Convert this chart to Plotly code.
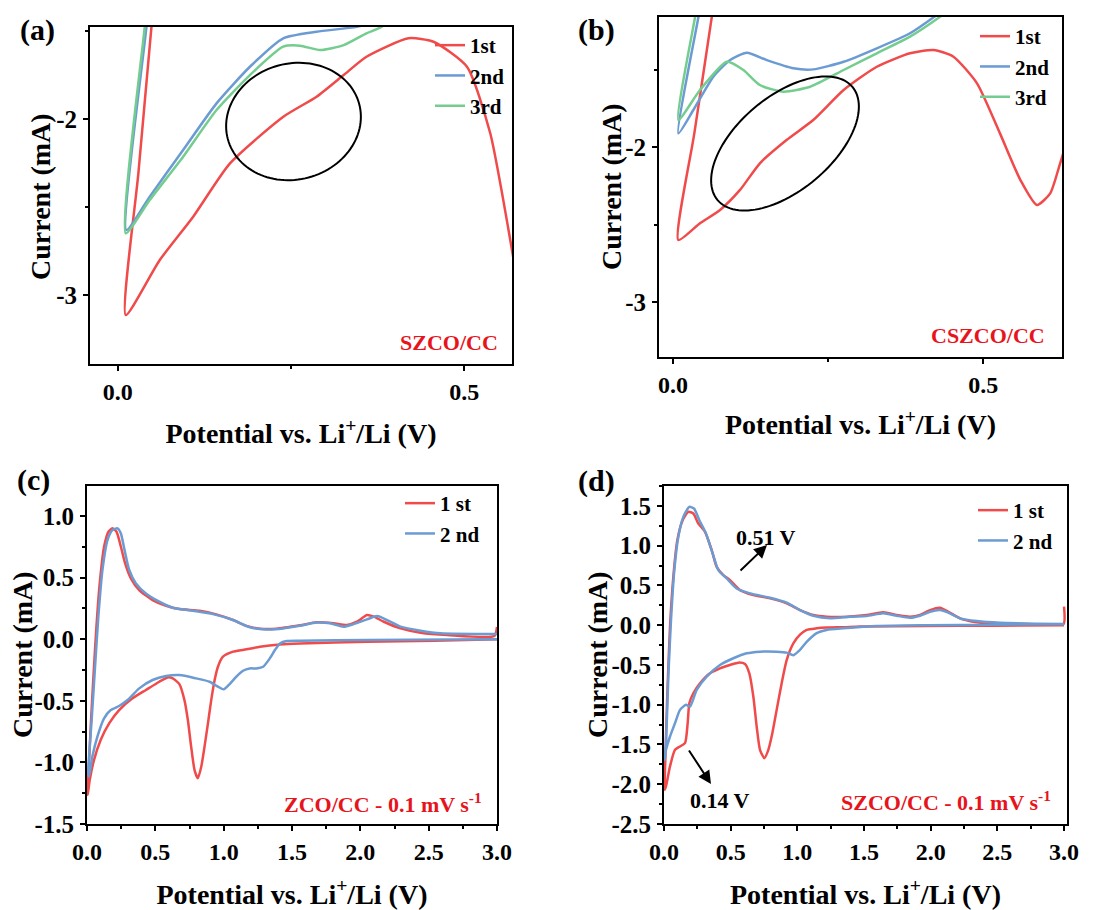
import math
import plotly.graph_objects as go

W, H = 1109, 910
FONT = "Liberation Serif"
RED = "#F04A4A"
BLUE = "#6B9BD2"
GREEN = "#74CD8E"
TXT_RED = "#E8141C"

# ---------------- Panel (a): SZCO/CC (zoom) ----------------
a1_v = [0.580, 0.569, 0.5376, 0.504, 0.4557, 0.4196, 0.359, 0.326, 0.287, 0.239, 0.162, 0.1089, 0.0607, 0.0116, 0.030, 0.0487, 0.053]
a1_i = [-3.00, -2.744, -2.081, -1.703, -1.561, -1.541, -1.646, -1.750, -1.873, -1.987, -2.252, -2.555, -2.801, -3.114, -2.30, -1.476, -1.30]
a2_v = [0.380, 0.345, 0.287, 0.2389, 0.1908, 0.1426, 0.0944, 0.0462, 0.0125, 0.0414, 0.045]
a2_i = [-1.44, -1.476, -1.504, -1.541, -1.703, -1.911, -2.176, -2.441, -2.631, -1.476, -1.30]
a3_v = [0.400, 0.381, 0.359, 0.326, 0.292, 0.263, 0.2389, 0.1908, 0.1426, 0.0944, 0.0462, 0.0116, 0.039, 0.043]
a3_i = [-1.40, -1.476, -1.513, -1.580, -1.608, -1.583, -1.589, -1.750, -1.949, -2.214, -2.460, -2.649, -1.476, -1.30]

# ---------------- Panel (b): CSZCO/CC (zoom) ----------------
b1_v = [0.640, 0.624, 0.608, 0.5866, 0.560, 0.527, 0.490, 0.452, 0.420, 0.382, 0.3285, 0.275, 0.226, 0.183, 0.140, 0.108, 0.0758, 0.0435, 0.0086, 0.0344, 0.0624, 0.066]
b1_i = [-1.90, -2.105, -2.299, -2.374, -2.213, -1.912, -1.589, -1.417, -1.374, -1.395, -1.482, -1.632, -1.826, -1.955, -2.105, -2.277, -2.406, -2.492, -2.600, -1.910, -1.163, -1.05]
b2_v = [0.440, 0.420, 0.382, 0.3285, 0.275, 0.226, 0.194, 0.151, 0.119, 0.092, 0.065, 0.0328, 0.0086, 0.0409, 0.044]
b2_i = [-1.10, -1.163, -1.266, -1.363, -1.450, -1.499, -1.492, -1.439, -1.392, -1.439, -1.546, -1.761, -1.912, -1.163, -1.09]
b3_v = [0.450, 0.431, 0.382, 0.3285, 0.275, 0.221, 0.178, 0.140, 0.1134, 0.0866, 0.0435, 0.0086, 0.0355, 0.038]
b3_i = [-1.10, -1.158, -1.288, -1.395, -1.503, -1.611, -1.643, -1.600, -1.503, -1.450, -1.632, -1.826, -1.163, -1.10]

# ---------------- Panel (c): ZCO/CC full CV ----------------
c1_v = [3.0, 2.539, 2.049, 1.559, 1.412, 1.265, 1.167, 1.069, 0.995, 0.958, 0.934, 0.909, 0.885, 0.860, 0.836, 0.811,
        0.787, 0.762, 0.738, 0.713, 0.676, 0.627, 0.591, 0.529, 0.431, 0.333, 0.235, 0.162, 0.100, 0.051, 0.020, 0.005,
        0.010, 0.027, 0.047, 0.069, 0.093, 0.125, 0.157, 0.186, 0.216, 0.248, 0.279, 0.321, 0.382, 0.480, 0.578, 0.676,
        0.824, 0.946, 1.069, 1.167, 1.265, 1.387, 1.559, 1.681, 1.804, 1.902, 1.975, 2.049, 2.098, 2.172, 2.294, 2.441,
        2.637, 2.980, 3.0]
c1_i = [0.0, -0.012, -0.020, -0.034, -0.042, -0.061, -0.082, -0.101, -0.142, -0.223, -0.331, -0.494, -0.683, -0.872, -1.035, -1.129,
        -1.062, -0.872, -0.656, -0.494, -0.364, -0.318, -0.310, -0.345, -0.412, -0.480, -0.575, -0.683, -0.818, -0.981, -1.143, -1.265,
        -1.116, -0.710, -0.304, 0.102, 0.453, 0.751, 0.873, 0.900, 0.873, 0.751, 0.616, 0.494, 0.399, 0.318, 0.272, 0.245,
        0.231, 0.202, 0.156, 0.108, 0.086, 0.086, 0.113, 0.137, 0.129, 0.115, 0.142, 0.196, 0.183, 0.142, 0.088, 0.053,
        0.034, 0.026, 0.100]
c2_v = [3.0, 2.049, 1.559, 1.461, 1.412, 1.375, 1.338, 1.289, 1.240, 1.191, 1.142, 1.093, 1.044, 1.000, 0.958, 0.897,
        0.799, 0.676, 0.578, 0.480, 0.382, 0.297, 0.235, 0.174, 0.125, 0.076, 0.039, 0.015,
        0.010, 0.034, 0.059, 0.083, 0.113, 0.150, 0.186, 0.223, 0.248, 0.272, 0.309, 0.358, 0.431, 0.529, 0.627, 0.775,
        0.922, 1.069, 1.191, 1.314, 1.436, 1.559, 1.681, 1.779, 1.877, 1.951, 2.049, 2.123, 2.196, 2.294, 2.441, 2.588, 3.0]
c2_i = [0.0, -0.006, -0.012, -0.015, -0.034, -0.088, -0.155, -0.223, -0.237, -0.237, -0.256, -0.304, -0.364, -0.407, -0.385, -0.345,
        -0.318, -0.291, -0.299, -0.331, -0.399, -0.494, -0.542, -0.575, -0.642, -0.791, -0.953, -1.116,
        -1.062, -0.656, -0.223, 0.183, 0.562, 0.805, 0.886, 0.900, 0.859, 0.738, 0.562, 0.453, 0.372, 0.305, 0.256, 0.231,
        0.204, 0.156, 0.097, 0.080, 0.088, 0.110, 0.135, 0.129, 0.102, 0.123, 0.161, 0.188, 0.156, 0.102, 0.069, 0.048, 0.042]

# ---------------- Panel (d): SZCO/CC full CV ----------------
d1_v = [3.0, 2.47, 1.97, 1.47, 1.345, 1.22, 1.145, 1.07, 1.02, 0.97, 0.92, 0.8825, 0.845, 0.8125, 0.7825, 0.7525,
        0.72, 0.695, 0.67, 0.64, 0.6075, 0.5575, 0.495, 0.42, 0.345, 0.27, 0.22, 0.19, 0.1775, 0.1575, 0.12, 0.0825,
        0.045, 0.015, 0.005,
        0.01, 0.025, 0.045, 0.07, 0.10, 0.14, 0.1825, 0.22, 0.2575, 0.3075, 0.3575, 0.395, 0.445, 0.495, 0.57, 0.67,
        0.795, 0.92, 1.02, 1.12, 1.22, 1.37, 1.52, 1.645, 1.745, 1.845, 1.92, 1.995, 2.07, 2.1325, 2.22, 2.32, 2.47,
        2.72, 2.995, 3.0]
d1_i = [0.0, -0.006, -0.010, -0.017, -0.025, -0.030, -0.040, -0.060, -0.120, -0.230, -0.440, -0.730, -1.065, -1.358, -1.567, -1.672,
        -1.567, -1.274, -0.897, -0.605, -0.487, -0.471, -0.500, -0.542, -0.605, -0.730, -0.856, -0.981, -1.232, -1.483, -1.525, -1.567,
        -1.776, -2.027, -2.069,
        -1.692, -0.856, -0.019, 0.609, 1.069, 1.320, 1.425, 1.404, 1.278, 1.174, 0.944, 0.734, 0.630, 0.567, 0.441, 0.379,
        0.337, 0.274, 0.190, 0.128, 0.107, 0.107, 0.128, 0.161, 0.128, 0.107, 0.128, 0.190, 0.220, 0.169, 0.086, 0.044, 0.023,
        0.015, 0.010, 0.232]
d2_v = [3.0, 2.47, 1.97, 1.595, 1.345, 1.22, 1.145, 1.07, 1.02, 0.97, 0.92, 0.845, 0.72, 0.62, 0.52, 0.42,
        0.32, 0.245, 0.195, 0.165, 0.12, 0.0825, 0.045, 0.015, 0.005,
        0.015, 0.0325, 0.0525, 0.0775, 0.1075, 0.145, 0.19, 0.225, 0.265, 0.315, 0.365, 0.4075, 0.47, 0.545, 0.645,
        0.795, 0.92, 1.02, 1.12, 1.245, 1.395, 1.52, 1.645, 1.745, 1.845, 1.92, 1.995, 2.07, 2.1325, 2.22, 2.345,
        2.52, 3.0]
d2_i = [0.013, 0.006, 0.0, -0.010, -0.040, -0.060, -0.100, -0.210, -0.310, -0.377, -0.345, -0.333, -0.333, -0.354, -0.416, -0.500,
        -0.646, -0.814, -1.023, -1.002, -1.065, -1.232, -1.400, -1.567, -1.692,
        -1.483, -0.646, 0.065, 0.692, 1.111, 1.362, 1.487, 1.467, 1.320, 1.153, 0.902, 0.692, 0.588, 0.462, 0.400,
        0.345, 0.283, 0.190, 0.119, 0.086, 0.107, 0.115, 0.149, 0.119, 0.094, 0.119, 0.169, 0.190, 0.157, 0.086, 0.052,
        0.031, 0.015]

# ---------------- Axis settings (ranges, ticks) ----------------
a_xrange, a_yrange = [-0.040, 0.569], [-3.392, -1.477]
b_xrange, b_yrange = [-0.0226, 0.627], [-3.355, -1.161]
c_xrange, c_yrange = [0.0, 3.0], [-1.5, 1.244]
d_xrange, d_yrange = [0.0, 3.0225], [-2.5, 1.75]

zoom_xticks = [0.0, 0.5]
zoom_xlabels = ["0.0", "0.5"]
zoom_yticks = [-3, -2]
zoom_ylabels = ["-3", "-2"]
full_xticks = [0.0, 0.5, 1.0, 1.5, 2.0, 2.5, 3.0]
full_xlabels = ["0.0", "0.5", "1.0", "1.5", "2.0", "2.5", "3.0"]
c_yticks = [-1.5, -1.0, -0.5, 0.0, 0.5, 1.0]
c_ylabels = ["-1.5", "-1.0", "-0.5", "0.0", "0.5", "1.0"]
d_yticks = [-2.5, -2.0, -1.5, -1.0, -0.5, 0.0, 0.5, 1.0, 1.5]
d_ylabels = ["-2.5", "-2.0", "-1.5", "-1.0", "-0.5", "0.0", "0.5", "1.0", "1.5"]

# plot boxes in pixels: left, right, top, bottom
BOX = {
    "a": (90, 512, 27, 364),
    "b": (659, 1062, 17, 357),
    "c": (87, 497, 486, 824),
    "d": (664, 1067, 486, 824),
}


def dom(box):
    l, r, t, b = box
    return [l / W, r / W], [1 - b / H, 1 - t / H]


def bold(size, color="black"):
    return dict(family=FONT, size=size, color=color, weight="bold")


XTITLE = "Potential vs. Li<sup>+</sup>/Li (V)"
YTITLE = "Current (mA)"


def xaxis(box, rng, tv, tt, minor_dt, anchor, standoff):
    d, _ = dom(box)
    return dict(domain=d, range=rng, anchor=anchor, automargin=False, showline=True, linewidth=2, linecolor="black",
                mirror=True, ticks="outside", ticklen=5, tickwidth=2, tickcolor="black",
                tickvals=tv, ticktext=tt, tickfont=bold(24), ticklabelstandoff=0,
                showgrid=False, zeroline=False,
                minor=dict(ticks="outside", ticklen=3, tickwidth=2, tickcolor="black", dtick=minor_dt, tick0=0, showgrid=False),
                title=dict(text=XTITLE, font=bold(28), standoff=standoff))


def yaxis(box, rng, tv, tt, minor_dt, anchor):
    _, d = dom(box)
    return dict(domain=d, range=rng, anchor=anchor, automargin=False, showline=True, linewidth=2, linecolor="black",
                mirror=True, ticks="outside", ticklen=5, tickwidth=2, tickcolor="black",
                tickvals=tv, ticktext=tt, tickfont=bold(25), ticklabelstandoff=1,
                showgrid=False, zeroline=False,
                minor=dict(ticks="outside", ticklen=3, tickwidth=2, tickcolor="black", dtick=minor_dt, tick0=0, showgrid=False))


fig = go.Figure()

series = [
    ("x", "y", "legend", [(a1_v, a1_i, "1st", RED), (a2_v, a2_i, "2nd", BLUE), (a3_v, a3_i, "3rd", GREEN)]),
    ("x2", "y2", "legend2", [(b1_v, b1_i, "1st", RED), (b2_v, b2_i, "2nd", BLUE), (b3_v, b3_i, "3rd", GREEN)]),
    ("x3", "y3", "legend3", [(c1_v, c1_i, "1 st", RED), (c2_v, c2_i, "2 nd", BLUE)]),
    ("x4", "y4", "legend4", [(d1_v, d1_i, "1 st", RED), (d2_v, d2_i, "2 nd", BLUE)]),
]
for xa, ya, lg, items in series:
    for v, i, name, col in items:
        fig.add_trace(go.Scatter(x=v, y=i, mode="lines", name=name, xaxis=xa, yaxis=ya, legend=lg,
                                 line=dict(color=col, width=2.5, shape="spline", smoothing=0.6)))


def legend_cfg(text_x, first_y):
    return dict(x=(text_x - 40) / W, y=1 - (first_y - 20) / H, xanchor="left", yanchor="top",
                bgcolor="rgba(0,0,0,0)", borderwidth=0, font=bold(21), tracegroupgap=0, itemwidth=30)


def ellipse_path(cx, cy, a, b, ang_deg, n=120):
    th = math.radians(ang_deg)
    pts = []
    for k in range(n + 1):
        t = 2 * math.pi * k / n
        x = cx + a * math.cos(t) * math.cos(th) - b * math.sin(t) * math.sin(th)
        y = cy + a * math.cos(t) * math.sin(th) + b * math.sin(t) * math.cos(th)
        pts.append((x / W, 1 - y / H))
    return "M " + " L ".join(f"{px:.5f},{py:.5f}" for px, py in pts) + " Z"


shapes = [
    dict(type="path", xref="paper", yref="paper", path=ellipse_path(293.5, 121.5, 68, 58, -15), line=dict(color="black", width=2)),
    dict(type="path", xref="paper", yref="paper", path=ellipse_path(785, 143.5, 88, 47, -40), line=dict(color="black", width=2)),
]


def ann(text, X, Y, size, color="black", xanchor="center", angle=0):
    return dict(text=text, x=X / W, y=1 - Y / H, xref="paper", yref="paper", showarrow=False,
                font=bold(size, color), xanchor=xanchor, yanchor="middle", textangle=angle)


annotations = [
    ann("(a)", 37, 30, 30), ann("(b)", 596, 30, 30), ann("(c)", 33, 480, 30), ann("(d)", 596, 481, 30),
    # y-axis titles
    ann(YTITLE, 40, 197, 28, angle=-90), ann(YTITLE, 612, 187, 28, angle=-90),
    ann(YTITLE, 22, 655, 28, angle=-90), ann(YTITLE, 597, 655, 28, angle=-90),
    ann("SZCO/CC", 500, 342, 22, TXT_RED, "right"),
    ann("CSZCO/CC", 1047, 335, 22, TXT_RED, "right"),
    ann("ZCO/CC - 0.1 mV s<sup>-1</sup>", 484, 803, 22, TXT_RED, "right"),
    ann("SZCO/CC - 0.1 mV s<sup>-1</sup>", 1053, 801, 22, TXT_RED, "right"),
    ann("0.51 V", 766, 537, 22),
    ann("0.14 V", 720, 800, 22),
    dict(x=767 / W, y=1 - 545 / H, xref="paper", yref="paper", ax=-28, ay=27, text="", showarrow=True,
         arrowhead=2, arrowsize=1.3, arrowwidth=2, arrowcolor="black"),
    dict(x=711 / W, y=1 - 784 / H, xref="paper", yref="paper", ax=-23, ay=-35, text="", showarrow=True,
         arrowhead=2, arrowsize=1.3, arrowwidth=2, arrowcolor="black"),
]

fig.update_layout(
    width=W, height=H, margin=dict(l=0, r=0, t=0, b=0, autoexpand=False),
    paper_bgcolor="white", plot_bgcolor="white",
    font=dict(family=FONT, color="black", weight="bold"),
    xaxis=xaxis(BOX["a"], a_xrange, zoom_xticks, zoom_xlabels, 0.25, "y", 20),
    yaxis=yaxis(BOX["a"], a_yrange, zoom_yticks, zoom_ylabels, 0.5, "x"),
    xaxis2=xaxis(BOX["b"], b_xrange, zoom_xticks, zoom_xlabels, 0.25, "y2", 18),
    yaxis2=yaxis(BOX["b"], b_yrange, zoom_yticks, zoom_ylabels, 0.5, "x2"),
    xaxis3=xaxis(BOX["c"], c_xrange, full_xticks, full_xlabels, 0.25, "y3", 24),
    yaxis3=yaxis(BOX["c"], c_yrange, c_yticks, c_ylabels, 0.25, "x3"),
    xaxis4=xaxis(BOX["d"], d_xrange, full_xticks, full_xlabels, 0.25, "y4", 25),
    yaxis4=yaxis(BOX["d"], d_yrange, d_yticks, d_ylabels, 0.25, "x4"),
    legend=legend_cfg(470, 45),
    legend2=legend_cfg(1015, 36),
    legend3=legend_cfg(440, 503),
    legend4=legend_cfg(1013, 510),
    shapes=shapes,
    annotations=annotations,
)

fig.write_html("out.html", config={"displayModeBar": False},
               post_script="document.body.style.margin='0px';document.body.style.overflow='hidden';")
